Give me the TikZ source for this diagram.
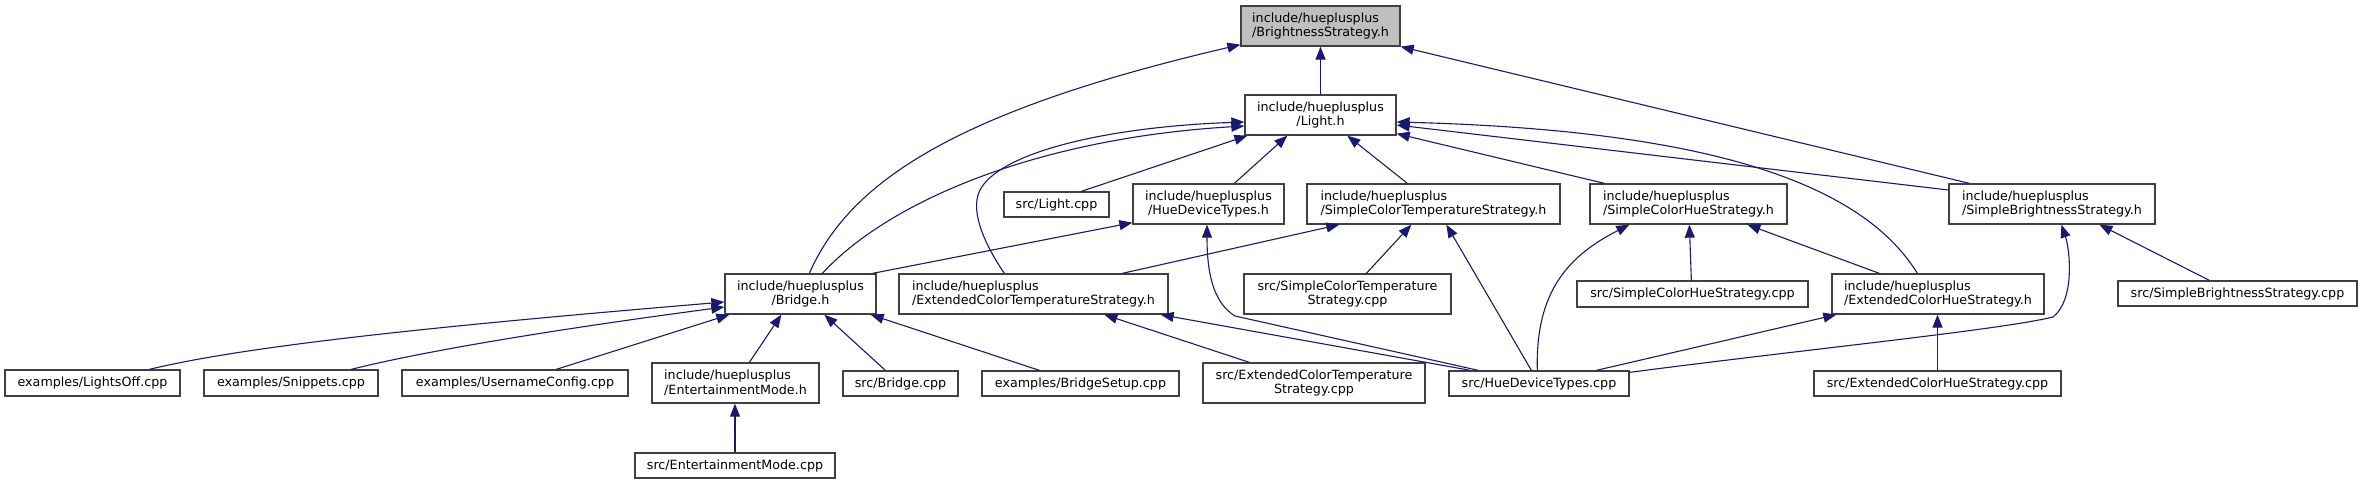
\documentclass[tikz,border=0pt]{standalone}
\usepackage{fontspec}
\setmainfont{DejaVu Sans}
\usetikzlibrary{arrows.meta}
\definecolor{edgecol}{HTML}{191970}
\definecolor{boxcol}{HTML}{404040}
\definecolor{rootfill}{HTML}{BFBFBF}
\tikzset{
  fbox/.style={draw=boxcol, line width=1.3pt, fill=white, inner sep=0pt, font=\fontsize{12.7pt}{14.7pt}\selectfont},
  lbox/.style={fbox, align=left},
  cbox/.style={fbox, align=center},
  edge/.style={draw=edgecol, line width=1.1pt, -{Triangle[length=13pt,width=10pt]}},
}
\begin{document}
\begin{tikzpicture}[x=1pt,y=-1pt]
\useasboundingbox (0,0) rectangle (2363,484);
\fill[white] (0,0) rectangle (2363,484);
% nodes
\node[lbox, fill=rootfill, minimum width=159pt, minimum height=40pt] (BS) at (1320.5,26) {include/hueplusplus\\/BrightnessStrategy.h};
\node[cbox, minimum width=151pt, minimum height=40pt] (Light) at (1320.5,115) {include/hueplusplus\\/Light.h};
\node[cbox, minimum width=105pt, minimum height=25pt] (LightCpp) at (1056.5,204.5) {src/Light.cpp};
\node[cbox, minimum width=151pt, minimum height=40pt] (HDTh) at (1208.5,204) {include/hueplusplus\\/HueDeviceTypes.h};
\node[lbox, minimum width=253pt, minimum height=40pt] (SCTSh) at (1433.5,204) {include/hueplusplus\\/SimpleColorTemperatureStrategy.h};
\node[lbox, minimum width=197pt, minimum height=40pt] (SCHSh) at (1688.5,204) {include/hueplusplus\\/SimpleColorHueStrategy.h};
\node[lbox, minimum width=206pt, minimum height=40pt] (SBSh) at (2052,204) {include/hueplusplus\\/SimpleBrightnessStrategy.h};
\node[cbox, minimum width=151pt, minimum height=40pt] (Bridge) at (800.5,294) {include/hueplusplus\\/Bridge.h};
\node[lbox, minimum width=269pt, minimum height=40pt] (ECTSh) at (1033.5,294) {include/hueplusplus\\/ExtendedColorTemperatureStrategy.h};
\node[cbox, minimum width=207pt, minimum height=40pt] (SCTScpp) at (1347.5,294) {src/SimpleColorTemperature\\Strategy.cpp};
\node[cbox, minimum width=231pt, minimum height=26pt] (SCHScpp) at (1692.5,294) {src/SimpleColorHueStrategy.cpp};
\node[lbox, minimum width=212pt, minimum height=40pt] (ECHSh) at (1938,294) {include/hueplusplus\\/ExtendedColorHueStrategy.h};
\node[cbox, minimum width=239pt, minimum height=25pt] (SBScpp) at (2237.5,293.5) {src/SimpleBrightnessStrategy.cpp};
\node[cbox, minimum width=175pt, minimum height=26pt] (LightsOff) at (92.5,383) {examples/LightsOff.cpp};
\node[cbox, minimum width=174pt, minimum height=26pt] (Snippets) at (291,383) {examples/Snippets.cpp};
\node[cbox, minimum width=226pt, minimum height=26pt] (Username) at (515,383) {examples/UsernameConfig.cpp};
\node[lbox, minimum width=167pt, minimum height=40pt] (EMh) at (735.5,383) {include/hueplusplus\\/EntertainmentMode.h};
\node[cbox, minimum width=115pt, minimum height=25pt] (BridgeCpp) at (900.5,383.5) {src/Bridge.cpp};
\node[cbox, minimum width=197pt, minimum height=25pt] (BridgeSetup) at (1080.5,383.5) {examples/BridgeSetup.cpp};
\node[cbox, minimum width=222pt, minimum height=40pt] (ECTScpp) at (1314,383) {src/ExtendedColorTemperature\\Strategy.cpp};
\node[cbox, minimum width=180pt, minimum height=25pt] (HDTcpp) at (1539,383.5) {src/HueDeviceTypes.cpp};
\node[cbox, minimum width=247pt, minimum height=25pt] (ECHScpp) at (1937.5,383.5) {src/ExtendedColorHueStrategy.cpp};
\node[cbox, minimum width=200pt, minimum height=25pt] (EMcpp) at (735,465.5) {src/EntertainmentMode.cpp};
% edges
\draw[edge] (Light.north) -- (BS.south);
\draw[edge] ([xshift=85pt]Bridge.north west) .. controls (850,180) and (960,110) .. ([yshift=2pt]BS.south west);
\draw[edge] ([xshift=21pt]SBSh.north west) -- (BS.south east);
\draw[edge] ([xshift=78pt]LightCpp.north west) -- ([xshift=3pt]Light.south west);
\draw[edge] ([xshift=102pt]HDTh.north west) -- ([xshift=43pt]Light.south west);
\draw[edge] ([xshift=101pt]SCTSh.north west) -- ([xshift=103pt]Light.south west);
\draw[edge] ([xshift=15pt]SCHSh.north west) -- ([yshift=2pt]Light.south east);
\draw[edge] ([xshift=86pt]ECHSh.north west) .. controls (1860,180) and (1700,130) .. ([yshift=-7pt]Light.east);
\draw[edge] ([yshift=14pt]SBSh.west) -- ([yshift=-10pt]Light.east);
\draw[edge] ([xshift=98pt]Bridge.north west) .. controls (890,200) and (1040,138) .. ([yshift=-11pt]Light.west);
\draw[edge] ([xshift=106pt]ECTSh.north west) .. controls (985,245) and (972,215) .. (978,195) .. controls (990,155) and (1100,127) .. ([yshift=-7pt]Light.west);
\draw[edge] ([xshift=-4pt]Bridge.north east) -- ([yshift=2pt]HDTh.south west);
\draw[edge] ([xshift=30pt]HDTcpp.north west) -- (1235,316) .. controls (1212,302) and (1207,270) .. ([xshift=-1.5pt]HDTh.south);
\draw[edge] ([xshift=224pt]ECTSh.north west) -- ([xshift=33pt]SCTSh.south west);
\draw[edge] ([xshift=123pt]SCTScpp.north west) -- ([xshift=105pt]SCTSh.south west);
\draw[edge] ([xshift=83pt]HDTcpp.north west) -- ([xshift=140pt]SCTSh.south west);
\draw[edge] ([xshift=89pt]HDTcpp.north west) .. controls (1535,290) and (1570,255) .. ([xshift=40pt]SCHSh.south west);
\draw[edge] ([xshift=115pt]SCHScpp.north west) -- ([xshift=100pt]SCHSh.south west);
\draw[edge] ([xshift=48pt]ECHSh.north west) -- ([xshift=158pt]SCHSh.south west);
\draw[edge] ([xshift=148pt]HDTcpp.north west) -- ([xshift=5pt]ECHSh.south west);
\draw[edge] (ECHScpp.north) -- (ECHScpp.north |- ECHSh.south);
\draw[edge] ([yshift=-2pt]HDTcpp.north east) .. controls (1800,350) and (2000,330) .. (2053,317) .. controls (2075,300) and (2070,250) .. ([xshift=113pt]SBSh.south west);
\draw[edge] ([xshift=92pt]SBScpp.north west) -- ([xshift=151pt]SBSh.south west);
\draw[edge] ([xshift=47pt]ECTScpp.north west) -- ([xshift=206pt]ECTSh.south west);
\draw[edge] ([xshift=22pt]HDTcpp.north west) -- ([xshift=-8pt]ECTSh.south east);
\draw[edge] ([xshift=145pt]LightsOff.north west) .. controls (250,345) and (450,325) .. ([yshift=-8pt]Bridge.west);
\draw[edge] ([xshift=148pt]Snippets.north west) .. controls (420,352) and (550,330) .. ([yshift=-13pt]Bridge.west);
\draw[edge] ([xshift=155pt]Username.north west) -- ([xshift=5pt]Bridge.south west);
\draw[edge] ([xshift=98pt]EMh.north west) -- ([xshift=57pt]Bridge.south west);
\draw[edge] ([xshift=43pt]BridgeCpp.north west) -- ([xshift=100pt]Bridge.south west);
\draw[edge] ([xshift=58pt]BridgeSetup.north west) -- ([xshift=-6pt]Bridge.south east);
\draw[edge] (EMcpp.north) -- (EMcpp.north |- EMh.south);
\end{tikzpicture}
\end{document}
